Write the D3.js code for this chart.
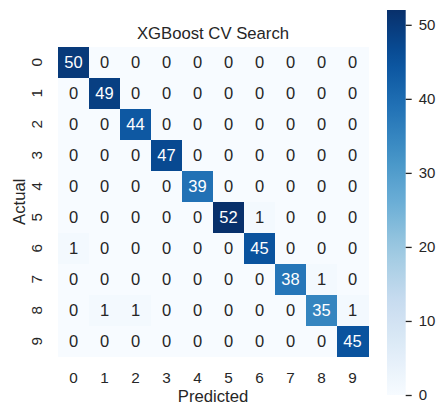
<!DOCTYPE html>
<html>
<head>
<meta charset="utf-8">
<script src="https://cdn.jsdelivr.net/npm/d3@7"></script>
<style>
  html, body { margin: 0; padding: 0; background: #ffffff; }
  svg { display: block; }
  text { font-family: Arial, "Liberation Sans", "DejaVu Sans", sans-serif; fill: #262626; }
</style>
</head>
<body>
<svg id="chart" width="446" height="415"></svg>
<script>
// ---- data ----
const title = "XGBoost CV Search";
const xLabel = "Predicted";
const yLabel = "Actual";
const predictedLabels = ["0","1","2","3","4","5","6","7","8","9"];
const actualLabels = ["0","1","2","3","4","5","6","7","8","9"];
const row0 = [50,0,0,0,0,0,0,0,0,0];
const row1 = [0,49,0,0,0,0,0,0,0,0];
const row2 = [0,0,44,0,0,0,0,0,0,0];
const row3 = [0,0,0,47,0,0,0,0,0,0];
const row4 = [0,0,0,0,39,0,0,0,0,0];
const row5 = [0,0,0,0,0,52,1,0,0,0];
const row6 = [1,0,0,0,0,0,45,0,0,0];
const row7 = [0,0,0,0,0,0,0,38,1,0];
const row8 = [0,1,1,0,0,0,0,0,35,1];
const row9 = [0,0,0,0,0,0,0,0,0,45];
const matrix = [row0,row1,row2,row3,row4,row5,row6,row7,row8,row9];
const colorbarTicks = [0,10,20,30,40,50];
const blues = ["#f7fbff","#deebf7","#c6dbef","#9ecae1","#6baed6","#4292c6","#2171b5","#08519c","#08306b"];

// ---- layout ----
const svg = d3.select("#chart");
const hm = { left: 58, top: 46.7, size: 310 };
const cb = { left: 387, width: 18.7, top: 10, bottom: 395 };

const vmin = 0;
const vmax = d3.max(matrix.flat());

const color = d3.scaleLinear()
  .domain(blues.map((_, i) => vmin + (vmax - vmin) * i / (blues.length - 1)))
  .range(blues)
  .interpolate(d3.interpolateRgb)
  .clamp(true);

const x = d3.scaleBand().domain(predictedLabels).range([hm.left, hm.left + hm.size]);
const y = d3.scaleBand().domain(actualLabels).range([hm.top, hm.top + hm.size]);

const cells = [];
matrix.forEach((row, i) => row.forEach((v, j) => cells.push({ r: actualLabels[i], c: predictedLabels[j], v })));

svg.append("g").selectAll("rect").data(cells).join("rect")
  .attr("x", d => x(d.c))
  .attr("y", d => y(d.r))
  .attr("width", x.bandwidth() + 0.5)
  .attr("height", y.bandwidth() + 0.5)
  .attr("fill", d => color(d.v))
  .attr("shape-rendering", "crispEdges");

function lum(c) {
  const rgb = d3.rgb(c);
  const f = v => { v /= 255; return v <= 0.03928 ? v / 12.92 : Math.pow((v + 0.055) / 1.055, 2.4); };
  return 0.2126 * f(rgb.r) + 0.7152 * f(rgb.g) + 0.0722 * f(rgb.b);
}

svg.append("g").selectAll("text").data(cells).join("text")
  .attr("x", d => x(d.c) + x.bandwidth() / 2)
  .attr("y", d => y(d.r) + y.bandwidth() / 2)
  .attr("text-anchor", "middle")
  .attr("dominant-baseline", "central")
  .attr("font-size", 16.5)
  .style("fill", d => lum(color(d.v)) > 0.408 ? "#262626" : "#ffffff")
  .text(d => d.v);

// x axis tick labels
const xAxis = d3.axisBottom(x).tickSize(0).tickPadding(0);
const gx = svg.append("g").attr("transform", `translate(0, ${hm.top + hm.size + 26.5})`).call(xAxis);
gx.select(".domain").remove();
gx.selectAll("text").attr("font-size", 15.3).attr("dy", null).style("fill", "#262626");

// y axis tick labels (rotated)
const gy = svg.append("g");
gy.selectAll("text").data(actualLabels).join("text")
  .attr("transform", d => `translate(42, ${y(d) + y.bandwidth() / 2}) rotate(-90)`)
  .attr("text-anchor", "middle")
  .attr("font-size", 15.3)
  .text(d => d);

// title & axis labels
svg.append("text").attr("x", hm.left + hm.size / 2).attr("y", 38.5)
  .attr("text-anchor", "middle").attr("font-size", 16.7).text(title);
svg.append("text").attr("x", hm.left + hm.size / 2).attr("y", 401.5)
  .attr("text-anchor", "middle").attr("font-size", 16.7).text(xLabel);
svg.append("text").attr("transform", `translate(24.5, ${hm.top + hm.size / 2}) rotate(-90)`)
  .attr("text-anchor", "middle").attr("font-size", 16.7).text(yLabel);

// colorbar
const cbScale = d3.scaleLinear().domain([vmin, vmax]).range([cb.bottom, cb.top]);
const defs = svg.append("defs");
const grad = defs.append("linearGradient").attr("id", "cbgrad")
  .attr("x1", 0).attr("y1", 1).attr("x2", 0).attr("y2", 0);
d3.range(0, 1.0001, 0.05).forEach(t => {
  grad.append("stop").attr("offset", t).attr("stop-color", color(vmin + t * (vmax - vmin)));
});
svg.append("rect").attr("x", cb.left).attr("y", cb.top)
  .attr("width", cb.width).attr("height", cb.bottom - cb.top)
  .attr("fill", "url(#cbgrad)");

const cbAxis = d3.axisRight(cbScale).tickValues(colorbarTicks).tickSize(6).tickPadding(7);
const gcb = svg.append("g").attr("transform", `translate(${cb.left + cb.width}, 0)`).call(cbAxis);
gcb.select(".domain").remove();
gcb.selectAll("line").attr("stroke", "#262626").attr("stroke-width", 1.3);
gcb.selectAll("text").attr("font-size", 15).style("fill", "#262626");
</script>
</body>
</html>
